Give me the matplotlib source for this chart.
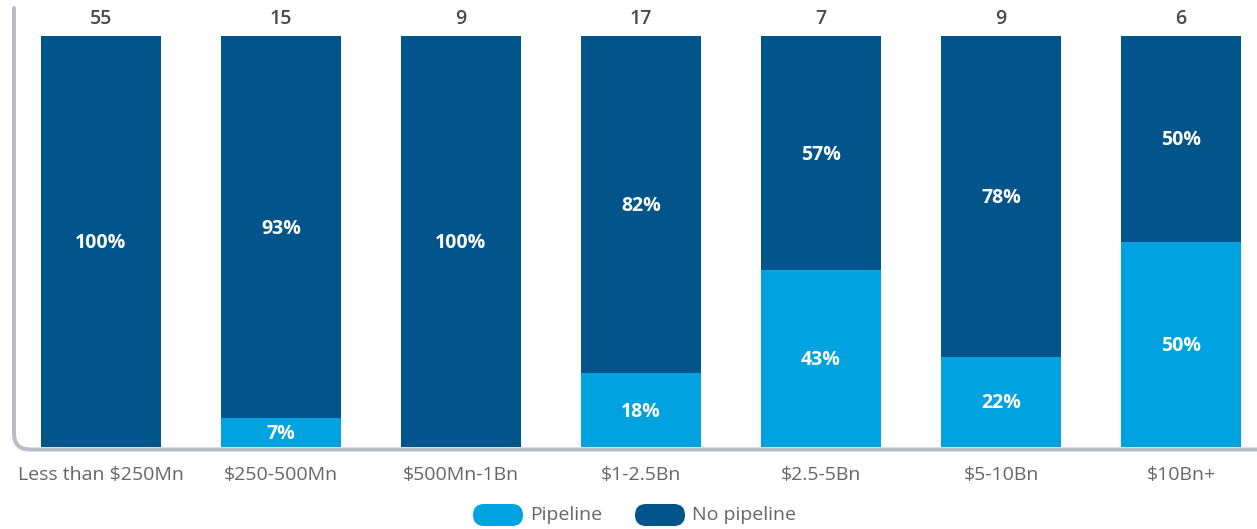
import matplotlib.pyplot as plt
from matplotlib.patches import FancyBboxPatch, PathPatch
from matplotlib.path import Path
from matplotlib.transforms import IdentityTransform

plt.rcParams['font.family'] = ['Open Sans', 'DejaVu Sans']

# Revenue bands, share of companies with / without a pipeline, and company counts
categories = ['Less than $250Mn', '$250-500Mn', '$500Mn-1Bn', '$1-2.5Bn', '$2.5-5Bn', '$5-10Bn', '$10Bn+']
pipeline = [0, 7, 0, 18, 43, 22, 50]
no_pipeline = [100, 93, 100, 82, 57, 78, 50]
counts = [55, 15, 9, 17, 7, 9, 6]

light_blue = '#00a3e0'
dark_blue = '#02558b'
axis_grey = '#b8bec6'

W, H = 1257, 529
fig = plt.figure(figsize=(W / 100, H / 100), dpi=100)

# axes spans from the left rule to the right edge, bottom rule to near the top
ax_left, ax_bottom, ax_top = 14, 447, 8
ax = fig.add_axes([ax_left / W, (H - ax_bottom) / H, (W - ax_left) / W, (ax_bottom - ax_top) / H])

x = list(range(len(categories)))
ax.bar(x, pipeline, width=2 / 3, color=light_blue)
ax.bar(x, no_pipeline, width=2 / 3, bottom=pipeline, color=dark_blue)

ax.set_xlim(-87 / 180, (W - 101) / 180)
ax.set_ylim(0, 100 * (ax_bottom - ax_top) / (ax_bottom - 36))
ax.axis('off')

for i in x:
    if pipeline[i] > 0:
        ax.text(i, pipeline[i] / 2 - 0.4, f'{pipeline[i]}%', ha='center', va='center',
                color='white', fontsize=14, fontweight='bold')
    if no_pipeline[i] > 0:
        ax.text(i, pipeline[i] + no_pipeline[i] / 2 - 0.4, f'{no_pipeline[i]}%', ha='center', va='center',
                color='white', fontsize=14, fontweight='bold')
    ax.text(i, 101.6, str(counts[i]), ha='center', va='bottom',
            color='#4a4a4a', fontsize=14, fontweight='semibold')
    ax.text(i, -4.6, categories[i], ha='center', va='top', color='#666666', fontsize=14)

# left and bottom rule with a rounded corner
lx, by, r = 14 / W, 1 - 449.5 / H, 16
rx, ry = r / W, r / H
verts = [(lx, 1 - 8 / H), (lx, by + ry), (lx, by), (lx + rx, by), (1.0, by)]
codes = [Path.MOVETO, Path.LINETO, Path.CURVE3, Path.CURVE3, Path.LINETO]
fig.add_artist(PathPatch(Path(verts, codes), facecolor='none', edgecolor=axis_grey,
                         lw=2.9, transform=fig.transFigure, capstyle='round'))

# legend with pill-shaped swatches, placed in pixel coordinates
def pill(x0, color):
    w, h = 50, 22
    fig.add_artist(FancyBboxPatch((x0, H - 526), w, h,
                                  boxstyle=f'round,pad=0,rounding_size={h / 2}',
                                  facecolor=color, edgecolor='none', transform=IdentityTransform()))

pill(473, light_blue)
fig.text(530 / W, 1 - 515 / H, 'Pipeline', ha='left', va='center', color='#666666', fontsize=14)
pill(635, dark_blue)
fig.text(692 / W, 1 - 515 / H, 'No pipeline', ha='left', va='center', color='#666666', fontsize=14)

fig.savefig('out.png', dpi=100)
